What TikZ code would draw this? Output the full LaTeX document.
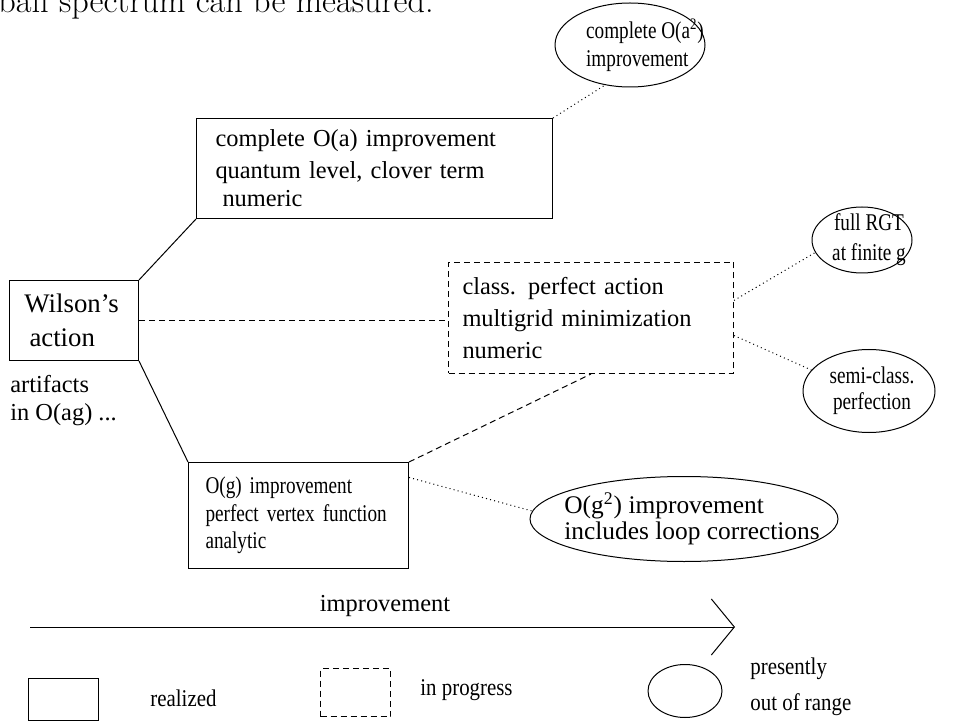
\documentclass[tikz,border=0pt]{standalone}
\usepackage{fontspec}
\newfontfamily\timesfont{Liberation Serif}
\newfontfamily\narrowfont[FakeStretch=0.8]{Liberation Serif}
\newfontfamily\legendfont[FakeStretch=0.87]{Liberation Serif}
\usetikzlibrary{shapes.geometric,arrows.meta}
\tikzset{
  realized/.style={draw, rectangle, line width=0.5pt, anchor=north west, align=left, inner ysep=0pt},
  inprogress/.style={realized, dash pattern=on 3pt off 2pt},
  outofrange/.style={draw, ellipse, line width=0.5pt, inner sep=0pt},
  plain/.style={align=left, inner sep=0pt},
  dotline/.style={line width=0.5pt, dash pattern=on 0.5pt off 1.6pt},
  dashline/.style={line width=0.5pt, dash pattern=on 3pt off 2pt},
  solidline/.style={line width=0.5pt}
}
\begin{document}
\begin{tikzpicture}[x=0.5pt, y=-0.5pt, font=\timesfont\fontsize{12.2}{14}\selectfont]
\useasboundingbox (0,0) rectangle (979,721);
\clip (0,0) rectangle (979,721);
% line of the running text above the figure
\node[anchor=base west, inner sep=0pt, font=\rmfamily\fontsize{17.1}{20}\selectfont] (txt) at (-2,13) {ball spectrum can be measured.};
% boxes
\node[realized, minimum width=178pt, minimum height=50pt, inner xsep=9.5pt, text width=159pt] (oa) at (196,118)
  {complete O(a) improvement\\[2pt] quantum level, clover term\\ \hspace{3.5pt}numeric};
\node[realized, minimum width=64.5pt, minimum height=40pt, inner xsep=7.5pt, text width=49.5pt,
  font=\timesfont\fontsize{13.4}{14}\selectfont] (wil) at (9,280)
  {Wilson’s\\[3pt] \hspace{2.5pt}action};
\node[plain, anchor=north west] (artf) at (10,375) {artifacts\\ in O(ag) ...};
\node[inprogress, minimum width=142.5pt, minimum height=55.5pt, inner xsep=7pt, text width=128.5pt] (perf) at (448,262)
  {class. perfect action\\[2pt] multigrid minimization\\[2pt] numeric};
\node[realized, minimum width=110pt, minimum height=53pt, inner xsep=8.5pt, text width=93pt,
  font=\narrowfont\fontsize{12}{13.8}\selectfont] (og) at (188,462)
  {O(g) improvement\\ perfect vertex function\\ analytic};
% ellipses
\node[outofrange, minimum width=75pt, minimum height=42pt,
  label={[align=left, xshift=7.5pt, font=\narrowfont\fontsize{12}{14}\selectfont]center:complete O(a\textsuperscript{2})\\ improvement}] (oa2) at (630,45) {};
\node[outofrange, minimum width=50pt, minimum height=33pt,
  label={[align=center, xshift=3.5pt, font=\narrowfont\fontsize{12}{15}\selectfont]center:full RGT\\ at finite g}] (rgt) at (862,240) {};
\node[outofrange, minimum width=66pt, minimum height=41.5pt,
  label={[align=center, xshift=1.5pt, font=\narrowfont\fontsize{12}{13}\selectfont]center:semi-class.\\ perfection}] (semi) at (869,391) {};
\node[outofrange, minimum width=154pt, minimum height=42.5pt,
  label={[align=left, xshift=4pt, font=\timesfont\fontsize{12.7}{13}\selectfont]center:O(g\textsuperscript{2}) improvement\\ includes loop corrections}] (og2) at (684,519) {};
% connections
\draw[solidline] (wil.north east) -- (oa.south west);
\draw[solidline] (wil.south east) -- (og.north west);
\draw[dashline] (wil.east) -- (wil.east -| perf.west);
\draw[dashline] (og.north east) -- (perf.south);
\draw[dotline] (oa.north east) -- (oa2.238);
\draw[dotline] (perf.7) -- (rgt.195);
\draw[dotline] (perf.353) -- (semi.160);
\draw[dotline] (og.19) -- (og2.177);
% improvement axis
\coordinate (axs) at (30,627);
\coordinate (axe) at (735,627);
\draw[solidline, -{Straight Barb[length=11.5pt, width=28pt, line width=0.5pt]}] (axs) -- (axe);
\node[plain] (axl) at (385,606) {improvement};
% legend
\node[realized, minimum width=35pt, minimum height=21pt] (lreal) at (28,678) {};
\node[plain, anchor=west, font=\legendfont\fontsize{12}{14}\selectfont] (treal) at (150,698) {realized};
\node[inprogress, minimum width=35pt, minimum height=24pt] (lprog) at (320,668) {};
\node[plain, anchor=west, font=\legendfont\fontsize{12}{14}\selectfont] (tprog) at (420,690) {in progress};
\node[outofrange, minimum width=37pt, minimum height=26.5pt] (lout) at (685,691) {};
\node[plain, anchor=west, font=\legendfont\fontsize{12}{14}\selectfont] (tout) at (750,687) {presently\\[4pt] out of range};
\end{tikzpicture}
\end{document}
